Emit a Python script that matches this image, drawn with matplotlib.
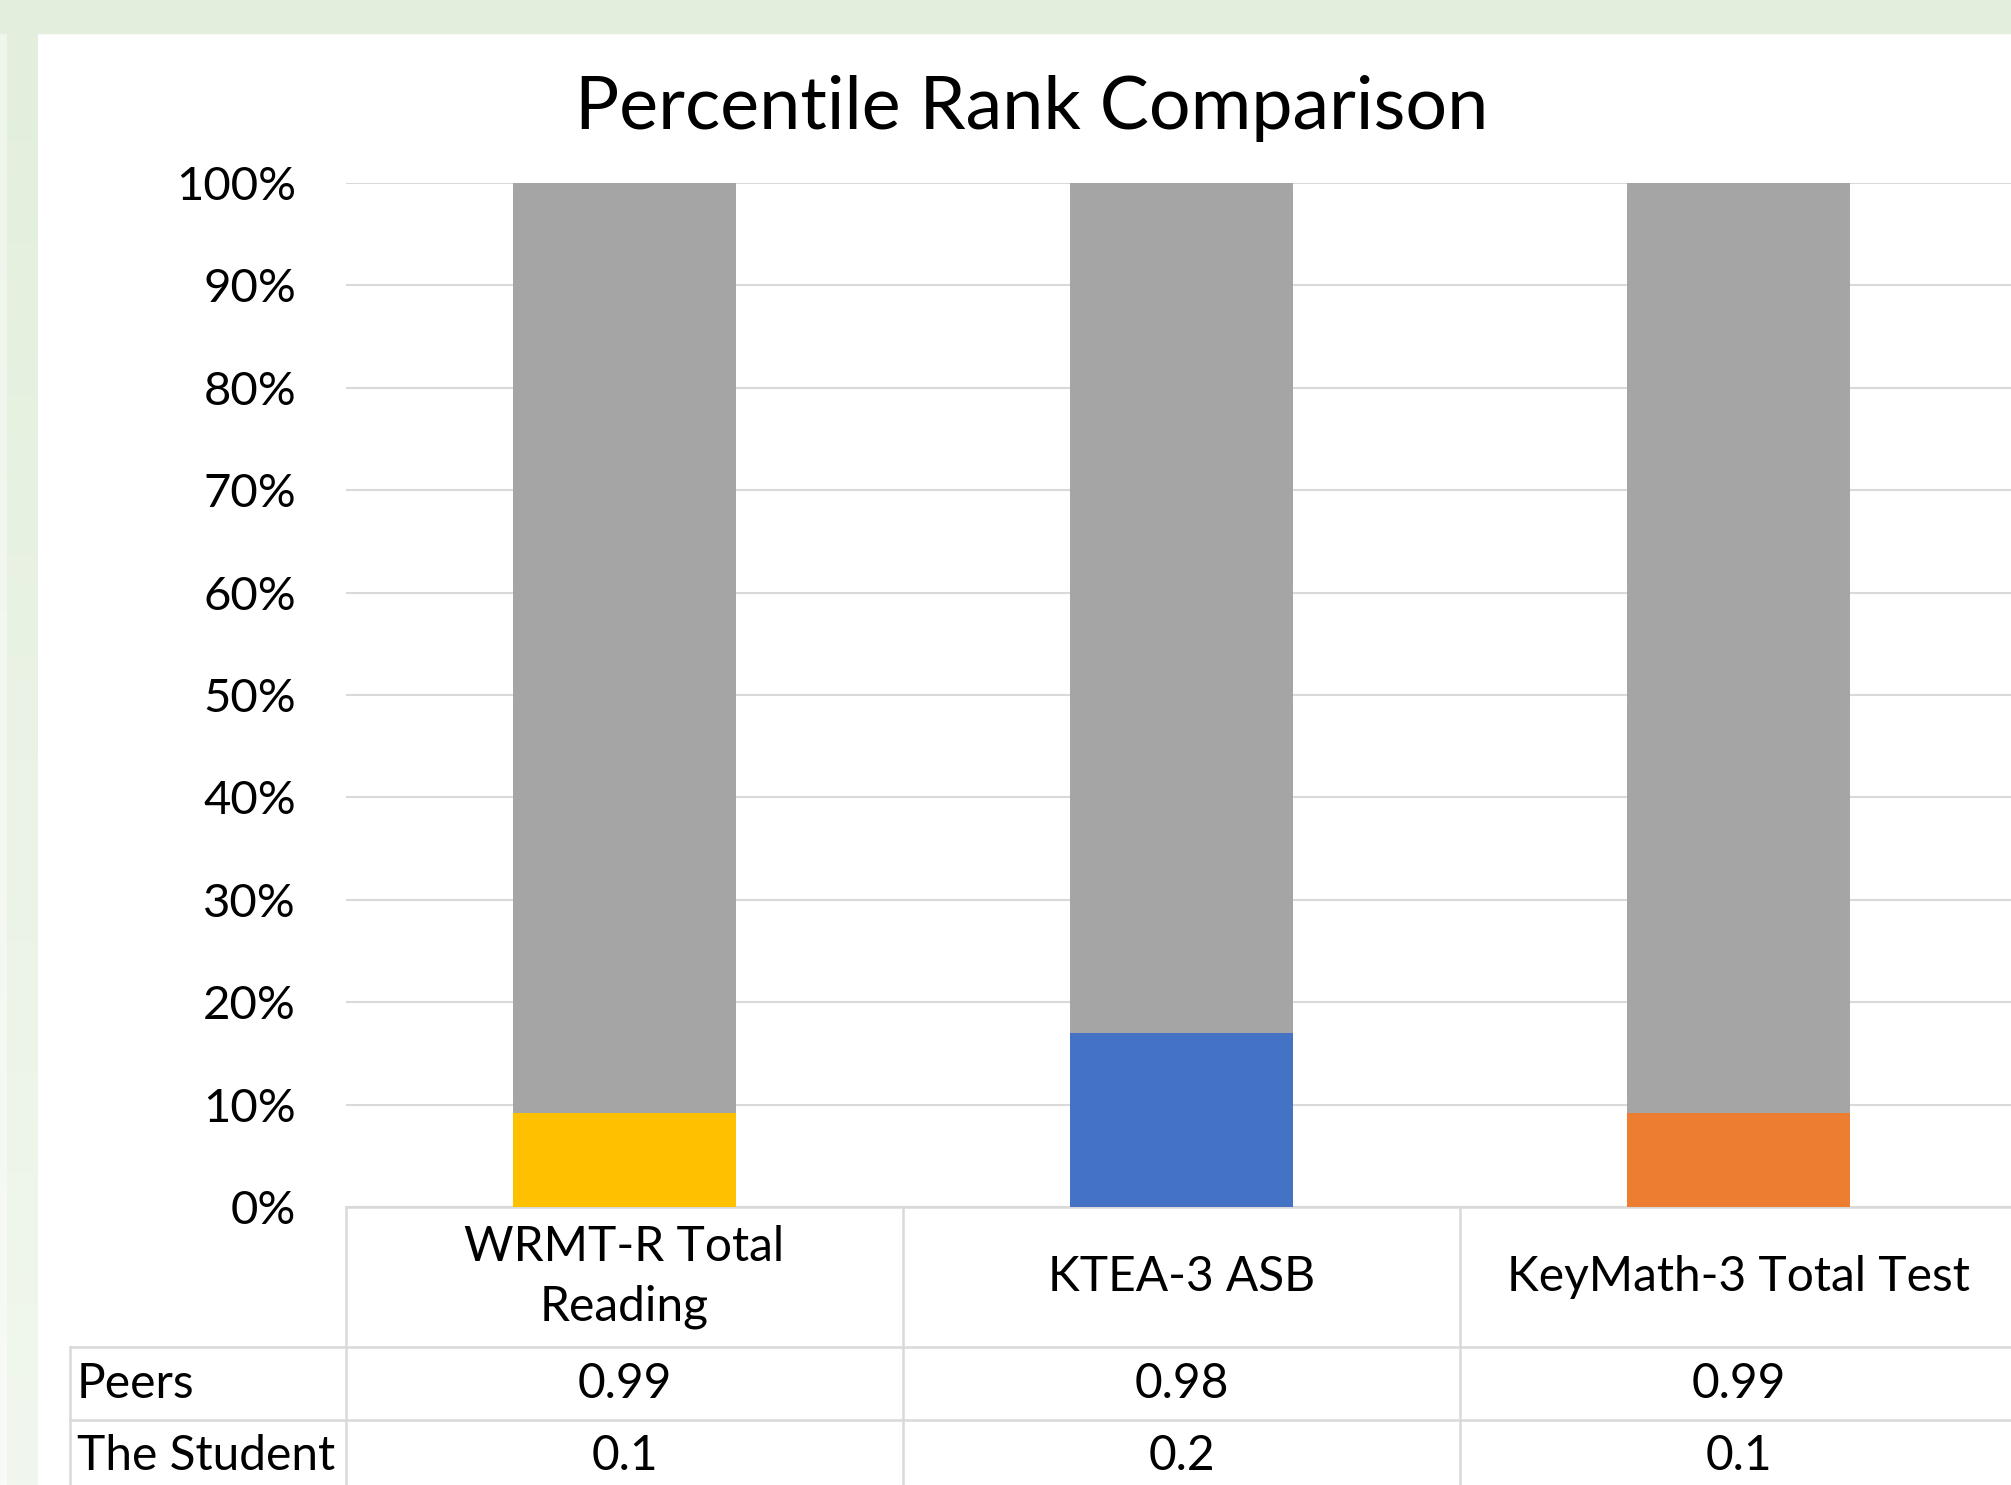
import matplotlib.pyplot as plt
import numpy as np
from matplotlib.patches import Rectangle
from matplotlib.colors import LinearSegmentedColormap

categories = ["WRMT-R Total\nReading", "KTEA-3 ASB", "KeyMath-3 Total Test"]
peers = [0.99, 0.98, 0.99]
student = [0.1, 0.2, 0.1]
row_labels = ["Peers", "The Student"]
student_colors = ["#FFC000", "#4472C4", "#ED7D31"]
peer_color = "#A5A5A5"
grid_color = "#D9D9D9"

plt.rcParams['font.family'] = ['Lato', 'DejaVu Sans']

W, H = 2011, 1485
fig = plt.figure(figsize=(W / 100, H / 100), dpi=100)

# green frame (top band + fading left band)
fig.patches.append(Rectangle((0, 1 - 33 / H), 1, 33 / H, transform=fig.transFigure,
                             color="#E3EFDC", zorder=0))
grad = np.linspace(0, 1, 256).reshape(-1, 1)
band = fig.add_axes([7 / W, 0, 31 / W, 1 - 33 / H])
cmap = LinearSegmentedColormap.from_list("g", ["#F1F7EE", "#E3EFDC"])
band.imshow(grad, aspect="auto", cmap=cmap, origin="lower")
band.axis("off")
edge = fig.add_axes([0, 0, 7 / W, 1 - 33 / H])
cmap2 = LinearSegmentedColormap.from_list("g2", ["#F8FBF7", "#EEF5EA"])
edge.imshow(grad, aspect="auto", cmap=cmap2, origin="lower")
edge.axis("off")

# plot area
left, right = 346 / W, 2017 / W
bottom, top = 1 - 1207 / H, 1 - 183 / H
ax = fig.add_axes([left, bottom, right - left, top - bottom])

x = np.arange(len(categories))
total = np.array(peers) + np.array(student)
s_share = np.array(student) / total
p_share = np.array(peers) / total

ax.bar(x, s_share, width=0.4, color=student_colors, zorder=3)
ax.bar(x, p_share, width=0.4, bottom=s_share, color=peer_color, zorder=3)

ax.set_xlim(-0.5, len(categories) - 0.5)
ax.set_ylim(0, 1)
ticks = np.arange(0, 1.01, 0.1)
ax.set_yticks(ticks)
ax.set_yticklabels([f"{int(round(v * 100))}%" for v in ticks], fontsize=34)
ax.tick_params(axis="y", length=0, pad=36)
ax.set_xticks([])
ax.yaxis.grid(True, color=grid_color, linewidth=1.5, zorder=0)
for s in ax.spines.values():
    s.set_visible(False)

fig.text(1032 / W, 1 - 108 / H, "Percentile Rank Comparison", fontsize=53,
         ha="center", va="center")

# data table below the plot
ax_h = (top - bottom) * H
ax_w = (right - left) * W

def ay(px):
    return -(px - 1207) / ax_h

col0 = (70 - 346) / ax_w
y_head = ay(1347)
y_peers = ay(1420)
y_stud = ay(1493)

line_kw = dict(color=grid_color, linewidth=1.8, transform=ax.transAxes, clip_on=False)
ax.plot([0, 1], [0, 0], **line_kw)
ax.plot([col0, 1], [y_head, y_head], **line_kw)
ax.plot([col0, 1], [y_peers, y_peers], **line_kw)
ax.plot([col0, 1], [y_stud, y_stud], **line_kw)
ax.plot([col0, col0], [y_head, y_stud], **line_kw)
for b in range(len(categories)):
    xb = b / len(categories)
    ax.plot([xb, xb], [0, y_stud], **line_kw)

fs = 34.5
trans = ax.get_xaxis_transform()
for i, cat in enumerate(categories):
    ax.text(x[i], (0 + y_head) / 2, cat, transform=trans, ha="center", va="center",
            fontsize=fs, linespacing=1.42, clip_on=False)
    ax.text(x[i], (y_head + y_peers) / 2, f"{peers[i]:g}", transform=trans,
            ha="center", va="center", fontsize=fs, clip_on=False)
    ax.text(x[i], (y_peers + y_stud) / 2, f"{student[i]:g}", transform=trans,
            ha="center", va="center", fontsize=fs, clip_on=False)

for j, lab in enumerate(row_labels):
    yc = [(y_head + y_peers) / 2, (y_peers + y_stud) / 2][j]
    ax.text(col0 + 7 / ax_w, yc, lab, transform=ax.transAxes, ha="left", va="center",
            fontsize=fs, clip_on=False)

fig.savefig("out.png", dpi=100)
